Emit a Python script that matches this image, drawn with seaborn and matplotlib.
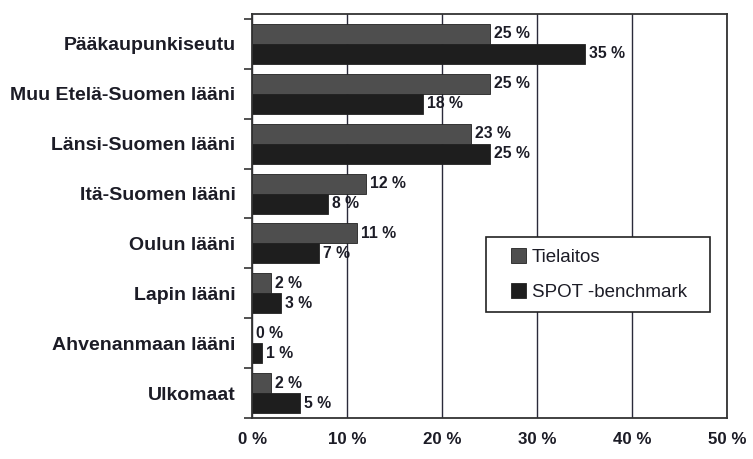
import matplotlib
matplotlib.use("Agg")
import matplotlib.pyplot as plt
import seaborn as sns
import pandas as pd
import numpy as np
from matplotlib.legend_handler import HandlerPatch
from matplotlib.patches import Rectangle

categories = ["Pääkaupunkiseutu", "Muu Etelä-Suomen lääni", "Länsi-Suomen lääni",
              "Itä-Suomen lääni", "Oulun lääni", "Lapin lääni",
              "Ahvenanmaan lääni", "Ulkomaat"]
tielaitos = [25, 25, 23, 12, 11, 2, 0, 2]
spot = [35, 18, 25, 8, 7, 3, 1, 5]
series_names = ["Tielaitos", "SPOT -benchmark"]
x_ticks = [0, 10, 20, 30, 40, 50]
x_tick_labels = ["0 %", "10 %", "20 %", "30 %", "40 %", "50 %"]

df = pd.DataFrame({
    "Alue": categories * 2,
    "Osuus": tielaitos + spot,
    "Sarja": [series_names[0]] * len(categories) + [series_names[1]] * len(categories),
})

sns.set_style("white")
plt.rcParams["font.family"] = ["Liberation Sans", "DejaVu Sans"]
TXT = "#1c1c26"

fig = plt.figure(figsize=(7.53, 4.59), dpi=100)
ax = fig.add_axes([0.335, 0.0893, 0.6305, 0.8802])

palette = {"Tielaitos": "#4e4e4e", "SPOT -benchmark": "#1e1e1e"}
sns.barplot(data=df, y="Alue", x="Osuus", hue="Sarja", order=categories,
            hue_order=series_names, palette=palette, orient="h",
            width=0.8, dodge=True, saturation=1, ax=ax, legend=True,
            edgecolor="#222222", linewidth=0.6)

for cont in ax.containers:
    ax.bar_label(cont, labels=[f"{int(v)} %" for v in cont.datavalues],
                 padding=3, fontsize=11.3, fontweight="bold", color=TXT)

ax.set_xlim(0, 50)
ax.set_ylim(7.5, -0.6)
ax.set_xticks(x_ticks)
ax.set_xticklabels(x_tick_labels, fontsize=12.2, fontweight="bold", color=TXT)
ax.tick_params(axis="x", length=0, pad=10)
ax.set_yticks(range(len(categories)))
ax.set_yticklabels(categories, fontsize=14.0, fontweight="bold", color=TXT)
ax.tick_params(axis="y", which="major", length=0, pad=12)
ax.set_yticks(np.arange(-0.5, len(categories), 1.0), minor=True)
ax.tick_params(axis="y", which="minor", length=6, width=1.2, color="#333333",
               direction="out", left=True)
ax.set_xlabel("")
ax.set_ylabel("")
ax.grid(axis="x", color="#2a2a3a", linewidth=1.0)
ax.set_axisbelow(True)
for s in ["left", "bottom", "top", "right"]:
    ax.spines[s].set_visible(True)
    ax.spines[s].set_color("#333333")
    ax.spines[s].set_linewidth(1.3)


def square_patch(legend, orig_handle, xdescent, ydescent, width, height, fontsize):
    side = 11.0
    return Rectangle((width - side - xdescent, (height - side) / 2 - ydescent), side, side)


handles, labels = ax.get_legend_handles_labels()
leg = ax.legend(handles, labels, loc="upper left",
                bbox_to_anchor=(0.4926, 0.347, 0.4716, 0.1), mode="expand",
                frameon=True, fancybox=False, fontsize=13.5,
                handlelength=1.55, handleheight=0.7, handletextpad=0.3,
                borderpad=0.6, labelspacing=0.95, borderaxespad=0,
                handler_map={Rectangle: HandlerPatch(patch_func=square_patch)})
leg.get_frame().set_edgecolor("#222222")
leg.get_frame().set_linewidth(1.2)
leg.get_frame().set_alpha(1)
for t in leg.get_texts():
    t.set_color(TXT)

fig.savefig("out.png", dpi=100)
